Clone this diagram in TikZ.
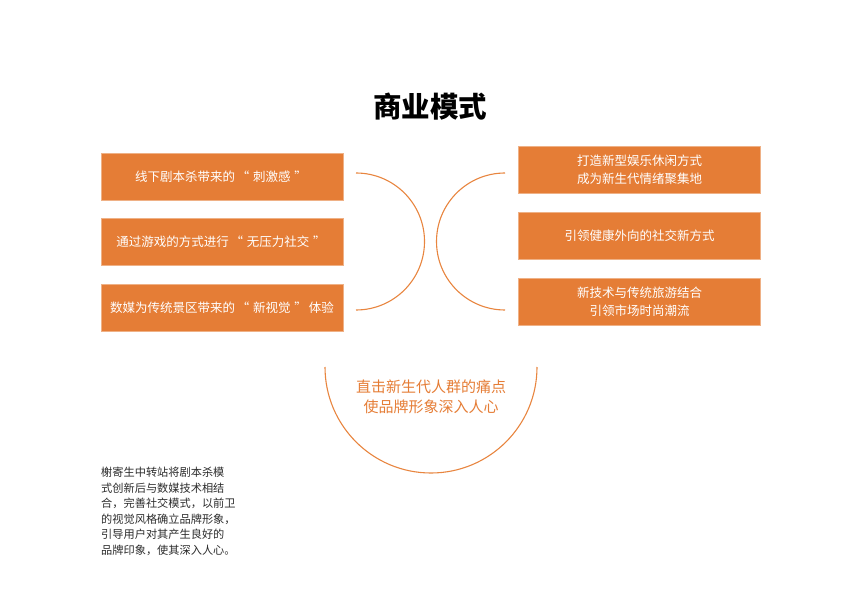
\documentclass[tikz,border=0pt]{standalone}
\usepackage{fontspec}
\setmainfont{Noto Sans CJK SC}
\usepackage{xcolor}
\usetikzlibrary{positioning}
\definecolor{bizorange}{HTML}{E57D36}
\definecolor{bizline}{HTML}{E8853F}
\definecolor{biztext}{HTML}{2B2B2B}
\newcommand\bizquote[1]{\hspace{.15em}“\hspace{.3em}#1\hspace{.3em}”\hspace{.15em}}

\begin{document}
\begin{tikzpicture}[
    x=1pt,
    y=1pt,
    every node/.style={inner sep=0pt},
    bizbox/.style={fill=bizorange, draw=bizorange!60!white, line width=0.6pt,
        minimum width=242, minimum height=47, text=white, align=center,
        font=\fontsize{12.5}{18}\selectfont},
    bizarc/.style={draw=bizline, line width=1.1pt}
]
\useasboundingbox (0,0) rectangle (850,600);

% Title
\node[font=\fontsize{28.5}{31}\selectfont\bfseries, text=black] (title) at (430,493) {商业模式};

% Left column
\node[bizbox] (l1) at (222,423.5) {线下剧本杀带来的\bizquote{刺激感}};
\node[bizbox, below=18 of l1] (l2) {通过游戏的方式进行\bizquote{无压力社交}};
\node[bizbox, below=18 of l2] (l3) {数媒为传统景区带来的\bizquote{新视觉}体验};

% Right column
\node[bizbox] (r1) at (639.5,430.5) {打造新型娱乐休闲方式\\成为新生代情绪聚集地};
\node[bizbox, below=19 of r1] (r2) {引领健康外向的社交新方式};
\node[bizbox, below=18 of r2] (r3) {新技术与传统旅游结合\\引领市场时尚潮流};

% Arcs
\coordinate (leftarc) at (356,427);
\coordinate (rightarc) at (505,427);
\coordinate (bottomarc) at (325,233);
\draw[bizarc] (leftarc) arc (90:-90:68.5);
\draw[bizarc] (rightarc) arc (90:270:68.5);
\draw[bizarc] (bottomarc) arc (180:360:106);

% Centre message
\node[text=bizorange, align=center, font=\fontsize{15}{19.5}\selectfont] (core) at (431,203)
    {直击新生代人群的痛点\\使品牌形象深入人心};

% Note
\node[anchor=north west, text=biztext, align=left, font=\fontsize{11.2}{15.5}\selectfont] (note) at (101,133)
    {榭寄生中转站将剧本杀模\\式创新后与数媒技术相结\\合，完善社交模式，以前卫\\的视觉风格确立品牌形象，\\引导用户对其产生良好的\\品牌印象，使其深入人心。};

\end{tikzpicture}
\end{document}
